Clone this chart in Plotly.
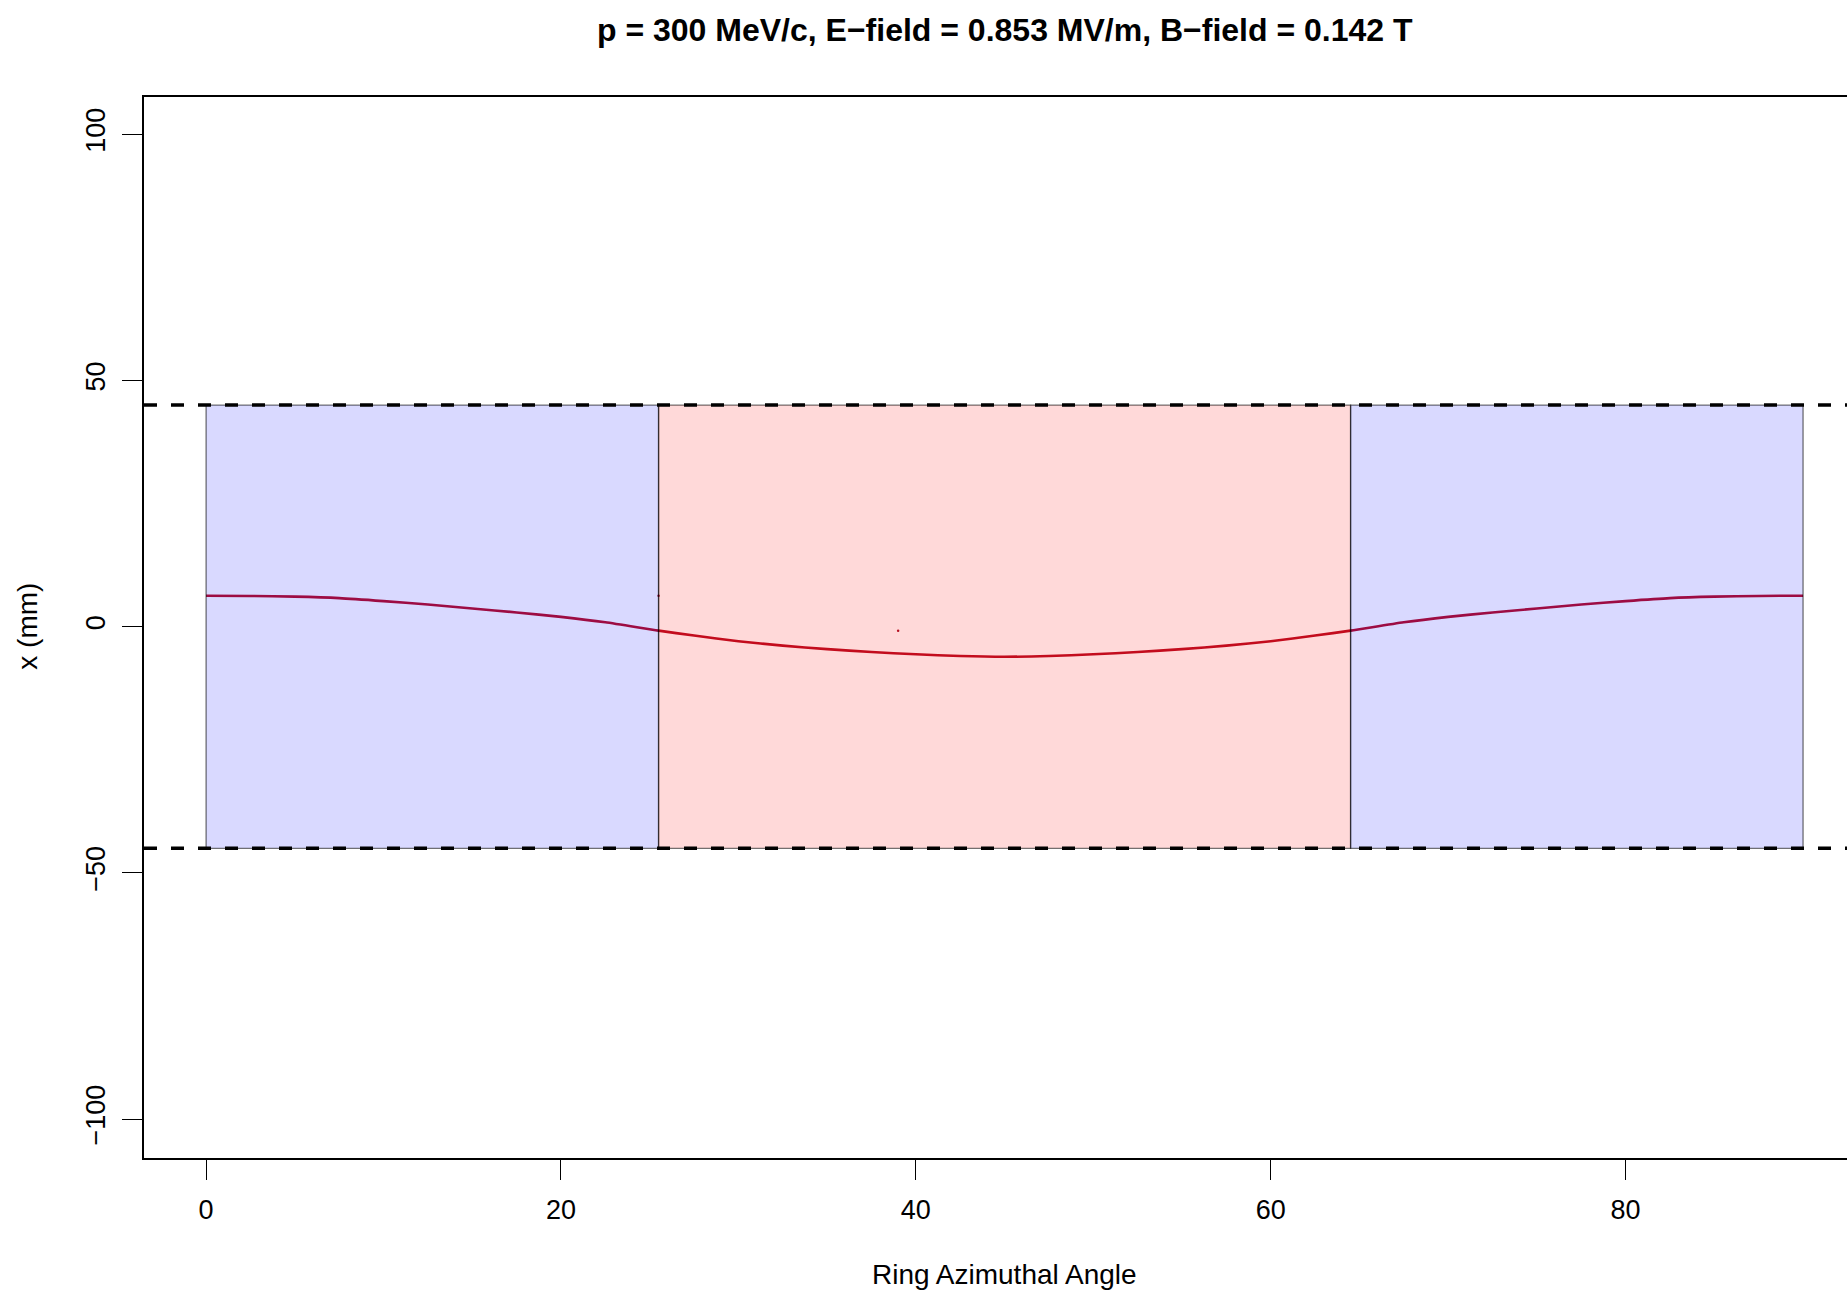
import plotly.graph_objects as go

# ---- data ----
angle = [0, 2.5, 5, 7.5, 10, 12.5, 15, 17.5, 20, 22.5, 25.5, 27.5, 30, 32.5, 35, 37.5,
         40, 42.5, 45, 47.5, 50, 52.5, 55, 57.5, 60, 62.5, 64.5, 67.5, 70, 72.5, 75,
         77.5, 80, 82.5, 85, 87.5, 90]
x_mm = [6.3, 6.25, 6.1, 5.8, 5.2, 4.5, 3.7, 2.9, 2.0, 0.9, -0.8, -1.8, -2.95, -3.85,
        -4.55, -5.15, -5.6, -5.95, -6.1, -5.95, -5.6, -5.15, -4.55, -3.85, -2.95, -1.8,
        -0.8, 0.9, 2.0, 2.9, 3.7, 4.5, 5.2, 5.8, 6.1, 6.25, 6.3]
stray_angle = [25.5, 39.0]
stray_x = [6.3, -0.8]
region_edges = [0, 25.5, 64.5, 90]
region_type = ["B", "E", "B"]
aperture = 45
x_ticks = [0, 20, 40, 60, 80]
y_ticks = [-100, -50, 0, 50, 100]
title_text = "p = 300 MeV/c, E\u2212field = 0.853 MV/m, B\u2212field = 0.142 T"

FONT = "Liberation Sans, Arial, Helvetica, sans-serif"
W, H = 1847, 1292
L, R, T, B = 144, 0, 97, 134

fig = go.Figure()
fig.add_trace(go.Scatter(x=angle, y=x_mm, mode="lines",
                         line=dict(color="rgb(185,15,35)", width=2.6, shape="spline", smoothing=0.6),
                         hoverinfo="skip", showlegend=False))
fig.add_trace(go.Scatter(x=stray_angle, y=stray_x, mode="markers",
                         marker=dict(color="rgb(170,20,40)", size=2.5),
                         hoverinfo="skip", showlegend=False))

fills = {"B": "rgba(0,0,255,0.15)", "E": "rgba(255,0,0,0.15)"}
for i, kind in enumerate(region_type):
    fig.add_shape(type="rect", xref="x", yref="y",
                  x0=region_edges[i], x1=region_edges[i + 1], y0=-aperture, y1=aperture,
                  fillcolor=fills[kind], line=dict(color="rgba(0,0,0,0.55)", width=1.3),
                  layer="above")
for yv in (aperture, -aperture):
    fig.add_shape(type="line", xref="paper", yref="y", x0=0, x1=1, y0=yv, y1=yv,
                  line=dict(color="black", width=3.5, dash="13px,14px"), layer="above")

x0_px, px_per_deg = 206.1, 17.744
y0_px, px_per_mm = 626.7, 4.924
fig.update_layout(
    width=W, height=H,
    margin=dict(l=L, r=R, t=T, b=B, pad=0),
    paper_bgcolor="white", plot_bgcolor="white",
    font=dict(family=FONT, size=27, color="black"),
    showlegend=False,
)
fig.update_xaxes(range=[(L - x0_px) / px_per_deg, (W - R - x0_px) / px_per_deg],
                 tickmode="array", tickvals=x_ticks, ticktext=[str(v) for v in x_ticks],
                 ticks="outside", ticklen=20, tickwidth=1.3, tickcolor="black",
                 showline=True, linecolor="black", linewidth=1.8, mirror=True,
                 showgrid=False, zeroline=False, tickfont=dict(size=27),
                 ticklabelstandoff=7)
fig.update_yaxes(range=[(y0_px - (H - B)) / px_per_mm, (y0_px - T) / px_per_mm],
                 tickmode="array", tickvals=y_ticks,
                 ticktext=[str(v).replace("-", "\u2212") for v in y_ticks],
                 ticks="outside", ticklen=20, tickwidth=1.3, tickcolor="black",
                 showline=True, linecolor="black", linewidth=1.8, mirror=False,
                 showgrid=False, zeroline=False, tickangle=-90, tickfont=dict(size=27),
                 ticklabelstandoff=6)

pw = W - L - R
ph = H - T - B
fig.add_annotation(text="<b>" + title_text + "</b>", xref="x", yref="paper",
                   x=45, y=1 + (T - 29.5) / ph, showarrow=False,
                   font=dict(size=32, family=FONT), xanchor="center", yanchor="middle")
fig.add_annotation(text="Ring Azimuthal Angle", xref="x", yref="paper",
                   x=45, y=-(1274.6 - (H - B)) / ph, showarrow=False,
                   font=dict(size=28, family=FONT), xanchor="center", yanchor="middle")
fig.add_annotation(text="x (mm)", xref="paper", yref="y",
                   x=(28 - L) / pw, y=0, showarrow=False, textangle=-90,
                   font=dict(size=28, family=FONT), xanchor="center", yanchor="middle")

fig.write_html("out.html")
